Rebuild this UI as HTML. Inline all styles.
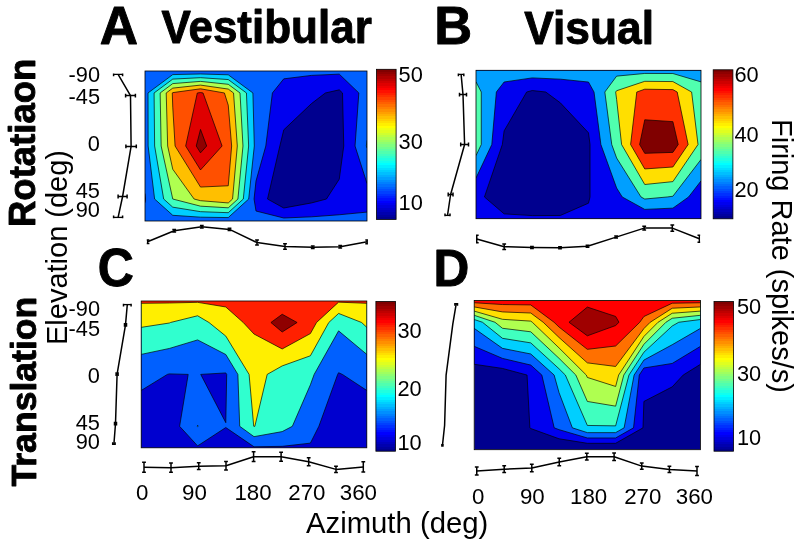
<!DOCTYPE html>
<html><head><meta charset="utf-8"><style>
html,body{margin:0;padding:0;background:#fff;}
body{width:800px;height:547px;overflow:hidden;}
svg{display:block;font-family:"Liberation Sans",sans-serif;}
svg{will-change:transform;}
</style></head><body>
<svg width="800" height="547" viewBox="0 0 800 547">
<rect width="800" height="547" fill="#fff"/>
<clipPath id="clipA"><rect x="145" y="71" width="222" height="150"/></clipPath>
<g clip-path="url(#clipA)">
<rect x="145" y="71" width="222" height="150" fill="#00008f"/>
<path fill="#0000ef" fill-rule="evenodd" d="M145 71L172.75 71L200.5 71L228.25 71L256 71L283.75 71L311.5 71L339.25 71L367 71L367 92.97L367 146L367 199.03L367 221L339.25 221L311.5 221L283.75 221L256 221L228.25 221L200.5 221L172.75 221L145 221L145 199.03L145 146L145 92.97L145 71ZM339.25 89.83L325.38 92.97L311.5 103.57L283.75 129.86L279.83 146L267.53 199.03L283.75 208.02L311.5 202.93L326.44 199.03L339.25 179.15L343.76 146L342.51 92.97L339.25 89.83Z"/>
<path fill="#0060ff" fill-rule="evenodd" d="M145 71L172.75 71L200.5 71L228.25 71L256 71L283.75 71L311.5 71L339.25 71L367 71L367 92.97L367 146L367 183.48L355.04 146L358.84 92.97L339.25 74.14L311.5 75.39L283.75 78.85L272.4 92.97L265.81 146L256 181.02L254.06 199.03L256 211.02L283.75 218L311.5 216.83L339.25 214.78L367 212.09L367 221L339.25 221L311.5 221L283.75 221L256 221L228.25 221L200.5 221L172.75 221L145 221L145 202.69L145.54 199.03L145 193.55L145 146L145 92.97L145 71Z"/>
<path fill="#00cfff" fill-rule="evenodd" d="M148.03 92.97L172.75 74.6L200.5 73.97L228.25 74.8L252.9 92.97L254.3 146L248.69 199.03L228.25 217.58L200.5 217.16L172.75 215.3L154.61 199.03L148.13 146L148.03 92.97ZM366.32 146L367 140.32L367 146L367 148.12L366.32 146Z"/>
<path fill="#40ffbf" fill-rule="evenodd" d="M154.09 92.97L172.75 79.1L200.5 77.68L228.25 79.56L246.45 92.97L248.64 146L243.31 199.03L228.25 212.7L200.5 211.66L172.75 207.17L163.68 199.03L154.64 146L154.09 92.97Z"/>
<path fill="#afff50" fill-rule="evenodd" d="M160.15 92.97L172.75 83.6L200.5 81.39L228.25 84.31L240 92.97L242.97 146L237.93 199.03L228.25 207.82L200.5 206.17L172.75 199.03L172.75 199.03L161.15 146L160.15 92.97Z"/>
<path fill="#ffbf00" fill-rule="evenodd" d="M166.21 92.97L172.75 88.11L200.5 85.1L228.25 89.07L233.54 92.97L237.31 146L232.55 199.03L228.25 202.94L200.5 200.68L194.1 199.03L172.75 169.24L167.67 146L166.21 92.97Z"/>
<path fill="#ff5000" fill-rule="evenodd" d="M172.27 92.97L172.75 92.61L200.5 88.81L224.41 92.97L228.25 105.21L231.65 146L228.25 185.77L200.5 187.06L175.08 146L172.75 107.11L172.27 92.97Z"/>
<path fill="#df0000" fill-rule="evenodd" d="M197.3 92.97L200.5 92.52L203.06 92.97L222.08 146L200.5 169.95L185.67 146L197.3 92.97Z"/>
<path fill="#8f0000" fill-rule="evenodd" d="M196.26 146L200.5 129.43L206.67 146L200.5 152.84L196.26 146Z"/>
<path fill="none" stroke="#000" stroke-opacity="0.85" stroke-width="0.8" stroke-linejoin="round" d="M339.25 89.83L325.38 92.97L311.5 103.57L283.75 129.86L279.83 146L267.53 199.03L283.75 208.02L311.5 202.93L326.44 199.03L339.25 179.15L343.76 146L342.51 92.97L339.25 89.83"/>
<path fill="none" stroke="#000" stroke-opacity="0.85" stroke-width="0.8" stroke-linejoin="round" d="M367 183.48L355.04 146L358.84 92.97L339.25 74.14L311.5 75.39L283.75 78.85L272.4 92.97L265.81 146L256 181.02L254.06 199.03L256 211.02L283.75 218L311.5 216.83L339.25 214.78L367 212.09M145 202.69L145.54 199.03L145 193.55"/>
<path fill="none" stroke="#000" stroke-opacity="0.85" stroke-width="0.8" stroke-linejoin="round" d="M148.03 92.97L172.75 74.6L200.5 73.97L228.25 74.8L252.9 92.97L254.3 146L248.69 199.03L228.25 217.58L200.5 217.16L172.75 215.3L154.61 199.03L148.13 146L148.03 92.97M367 148.12L366.32 146L367 140.32"/>
<path fill="none" stroke="#000" stroke-opacity="0.85" stroke-width="0.8" stroke-linejoin="round" d="M154.09 92.97L172.75 79.1L200.5 77.68L228.25 79.56L246.45 92.97L248.64 146L243.31 199.03L228.25 212.7L200.5 211.66L172.75 207.17L163.68 199.03L154.64 146L154.09 92.97"/>
<path fill="none" stroke="#000" stroke-opacity="0.85" stroke-width="0.8" stroke-linejoin="round" d="M160.15 92.97L172.75 83.6L200.5 81.39L228.25 84.31L240 92.97L242.97 146L237.93 199.03L228.25 207.82L200.5 206.17L172.75 199.03L172.75 199.03L161.15 146L160.15 92.97"/>
<path fill="none" stroke="#000" stroke-opacity="0.85" stroke-width="0.8" stroke-linejoin="round" d="M166.21 92.97L172.75 88.11L200.5 85.1L228.25 89.07L233.54 92.97L237.31 146L232.55 199.03L228.25 202.94L200.5 200.68L194.1 199.03L172.75 169.24L167.67 146L166.21 92.97"/>
<path fill="none" stroke="#000" stroke-opacity="0.85" stroke-width="0.8" stroke-linejoin="round" d="M172.27 92.97L172.75 92.61L200.5 88.81L224.41 92.97L228.25 105.21L231.65 146L228.25 185.77L200.5 187.06L175.08 146L172.75 107.11L172.27 92.97"/>
<path fill="none" stroke="#000" stroke-opacity="0.85" stroke-width="0.8" stroke-linejoin="round" d="M197.3 92.97L200.5 92.52L203.06 92.97L222.08 146L200.5 169.95L185.67 146L197.3 92.97"/>
<path fill="none" stroke="#000" stroke-opacity="0.85" stroke-width="0.8" stroke-linejoin="round" d="M196.26 146L200.5 129.43L206.67 146L200.5 152.84L196.26 146"/>
</g>
<rect x="145" y="71" width="222" height="150" fill="none" stroke="#000" stroke-width="0.8"/>
<clipPath id="clipB"><rect x="476" y="70.3" width="225" height="148.4"/></clipPath>
<g clip-path="url(#clipB)">
<rect x="476" y="70.3" width="225" height="148.4" fill="#00008f"/>
<path fill="#0000ef" fill-rule="evenodd" d="M476 70.3L504.12 70.3L532.25 70.3L560.38 70.3L588.5 70.3L616.62 70.3L644.75 70.3L672.88 70.3L701 70.3L701 92.03L701 144.5L701 196.97L701 218.7L672.88 218.7L644.75 218.7L616.62 218.7L588.5 218.7L560.38 218.7L532.25 218.7L504.12 218.7L476 218.7L476 196.97L476 144.5L476 92.03L476 70.3ZM532.25 90.52L526.67 92.03L504.12 130.88L502.33 144.5L484.44 196.97L504.12 213.87L532.25 215.6L560.38 215.46L588.5 203.18L590.02 196.97L590.02 144.5L588.5 132.84L560.38 102.86L545.75 92.03L532.25 90.52Z"/>
<path fill="#009fff" fill-rule="evenodd" d="M476 70.3L504.12 70.3L532.25 70.3L560.38 70.3L588.5 70.3L616.62 70.3L644.75 70.3L672.88 70.3L701 70.3L701 92.03L701 144.5L701 180.91L688.59 196.97L672.88 208.13L644.75 209.39L622.25 196.97L616.62 187.97L600.88 144.5L594.02 92.03L588.5 82.05L560.38 79.17L532.25 77.88L504.12 81.99L496.36 92.03L491.8 144.5L476 177.99L476 144.5L476 92.03L476 70.3Z"/>
<path fill="#50ffaf" fill-rule="evenodd" d="M476 92.03L476 81.89L481.28 92.03L481.27 144.5L476 155.66L476 144.5L476 92.03ZM604.83 92.03L616.62 76.13L644.75 73.45L672.88 73.52L701 81.89L701 92.03L701 144.5L701 159.49L672.87 196.24L667.25 196.97L644.75 199.04L641 196.97L616.62 157.99L611.74 144.5L604.83 92.03Z"/>
<path fill="#ffdf00" fill-rule="evenodd" d="M615.65 92.03L616.62 90.72L644.75 81.32L672.88 81.57L691.62 92.03L698.03 144.5L672.88 181.62L644.75 184.51L621.58 144.5L616.62 99.41L615.65 92.03Z"/>
<path fill="#ff3000" fill-rule="evenodd" d="M636.78 92.03L644.75 89.2L672.88 89.62L677.2 92.03L688.13 144.5L672.88 167.01L644.75 168.94L630.6 144.5L636.78 92.03Z"/>
<path fill="#800000" fill-rule="evenodd" d="M639.61 144.5L644.75 119.78L672.88 121.65L678.22 144.5L672.88 152.39L644.75 153.37L639.61 144.5Z"/>
<path fill="none" stroke="#000" stroke-opacity="0.85" stroke-width="0.8" stroke-linejoin="round" d="M532.25 90.52L526.67 92.03L504.12 130.88L502.33 144.5L484.44 196.97L504.12 213.87L532.25 215.6L560.38 215.46L588.5 203.18L590.02 196.97L590.02 144.5L588.5 132.84L560.38 102.86L545.75 92.03L532.25 90.52"/>
<path fill="none" stroke="#000" stroke-opacity="0.85" stroke-width="0.8" stroke-linejoin="round" d="M701 180.91L688.59 196.97L672.88 208.13L644.75 209.39L622.25 196.97L616.62 187.97L600.88 144.5L594.02 92.03L588.5 82.05L560.38 79.17L532.25 77.88L504.12 81.99L496.36 92.03L491.8 144.5L476 177.99"/>
<path fill="none" stroke="#000" stroke-opacity="0.85" stroke-width="0.8" stroke-linejoin="round" d="M476 81.89L481.28 92.03L481.27 144.5L476 155.66M701 159.49L672.87 196.24L667.25 196.97L644.75 199.04L641 196.97L616.62 157.99L611.74 144.5L604.83 92.03L616.62 76.13L644.75 73.45L672.88 73.52L701 81.89"/>
<path fill="none" stroke="#000" stroke-opacity="0.85" stroke-width="0.8" stroke-linejoin="round" d="M615.65 92.03L616.62 90.72L644.75 81.32L672.88 81.57L691.62 92.03L698.03 144.5L672.88 181.62L644.75 184.51L621.58 144.5L616.62 99.41L615.65 92.03"/>
<path fill="none" stroke="#000" stroke-opacity="0.85" stroke-width="0.8" stroke-linejoin="round" d="M636.78 92.03L644.75 89.2L672.88 89.62L677.2 92.03L688.13 144.5L672.88 167.01L644.75 168.94L630.6 144.5L636.78 92.03"/>
<path fill="none" stroke="#000" stroke-opacity="0.85" stroke-width="0.8" stroke-linejoin="round" d="M639.61 144.5L644.75 119.78L672.88 121.65L678.22 144.5L672.88 152.39L644.75 153.37L639.61 144.5"/>
</g>
<rect x="476" y="70.3" width="225" height="148.4" fill="none" stroke="#000" stroke-width="0.8"/>
<clipPath id="clipC"><rect x="141.2" y="301" width="225.6" height="146.8"/></clipPath>
<g clip-path="url(#clipC)">
<rect x="141.2" y="301" width="225.6" height="146.8" fill="#00008f"/>
<path fill="#0000cf" fill-rule="evenodd" d="M141.2 301L169.4 301L197.6 301L225.8 301L254 301L282.2 301L310.4 301L338.6 301L366.8 301L366.8 322.5L366.8 374.4L366.8 426.3L366.8 447.8L338.6 447.8L310.4 447.8L282.2 447.8L254 447.8L225.8 447.8L197.6 447.8L169.4 447.8L141.2 447.8L141.2 426.3L141.2 374.4L141.2 322.5L141.2 301Z"/>
<path fill="#0060ff" fill-rule="evenodd" d="M141.2 301L169.4 301L197.6 301L225.8 301L254 301L282.2 301L310.4 301L338.6 301L366.8 301L366.8 322.5L366.8 374.4L366.8 390.46L342.36 374.4L338.6 372.73L337.66 374.4L318.86 426.3L310.4 443.13L282.2 446.33L254 446.79L225.8 427.52L197.6 445.88L179.62 426.3L188.2 374.4L169.4 373.89L167.39 374.4L141.2 390.46L141.2 374.4L141.2 322.5L141.2 301ZM225.8 372.93L200.73 374.4L225.8 422.68L226.7 374.4L225.8 372.93Z"/>
<path fill="#30ffcf" fill-rule="evenodd" d="M141.2 301L169.4 301L197.6 301L225.8 301L254 301L282.2 301L310.4 301L338.6 301L366.8 301L366.8 322.5L366.8 354.4L338.6 330.87L314.16 374.4L310.4 384.78L292.35 426.3L282.2 431.6L254 436.65L239.72 426.3L237.89 374.4L225.8 354.52L197.6 339.92L169.4 348.45L141.2 354.4L141.2 322.5L141.2 301ZM197.25 426.3L197.6 425.27L198.16 426.3L197.6 426.69L197.25 426.3Z"/>
<path fill="#ffef00" fill-rule="evenodd" d="M141.2 301L169.4 301L197.6 301L225.8 301L254 301L282.2 301L310.4 301L338.6 301L366.8 301L366.8 322.5L366.8 327.36L361.62 322.5L338.6 313.45L328.79 322.5L310.4 355.77L282.2 365.92L267.2 374.4L254.85 426.3L254 426.5L253.72 426.3L249.08 374.4L225.8 336.12L208.97 322.5L197.6 315.78L170.48 322.5L169.4 323.01L141.2 327.36L141.2 322.5L141.2 301Z"/>
<path fill="#ff2000" fill-rule="evenodd" d="M141.2 301L169.4 301L197.6 301L225.8 301L254 301L282.2 301L310.4 301L338.6 301L366.8 301L366.8 303.34L338.6 302.13L316.53 322.5L310.4 333.59L282.2 348.96L254 334.03L243.26 322.5L225.8 306.97L197.6 302.34L169.4 302.99L141.2 303.34L141.2 301Z"/>
<path fill="#8f0000" fill-rule="evenodd" d="M270.92 322.5L282.2 314.25L297.1 322.5L282.2 332L270.92 322.5Z"/>
<path fill="none" stroke="#000" stroke-opacity="0.85" stroke-width="0.8" stroke-linejoin="round" d="M225.8 372.93L200.73 374.4L225.8 422.68L226.7 374.4L225.8 372.93M366.8 390.46L342.36 374.4L338.6 372.73L337.66 374.4L318.86 426.3L310.4 443.13L282.2 446.33L254 446.79L225.8 427.52L197.6 445.88L179.62 426.3L188.2 374.4L169.4 373.89L167.39 374.4L141.2 390.46"/>
<path fill="none" stroke="#000" stroke-opacity="0.85" stroke-width="0.8" stroke-linejoin="round" d="M366.8 354.4L338.6 330.87L314.16 374.4L310.4 384.78L292.35 426.3L282.2 431.6L254 436.65L239.72 426.3L237.89 374.4L225.8 354.52L197.6 339.92L169.4 348.45L141.2 354.4M197.25 426.3L197.6 425.27L198.16 426.3L197.6 426.69L197.25 426.3"/>
<path fill="none" stroke="#000" stroke-opacity="0.85" stroke-width="0.8" stroke-linejoin="round" d="M366.8 327.36L361.62 322.5L338.6 313.45L328.79 322.5L310.4 355.77L282.2 365.92L267.2 374.4L254.85 426.3L254 426.5L253.72 426.3L249.08 374.4L225.8 336.12L208.97 322.5L197.6 315.78L170.48 322.5L169.4 323.01L141.2 327.36"/>
<path fill="none" stroke="#000" stroke-opacity="0.85" stroke-width="0.8" stroke-linejoin="round" d="M366.8 303.34L338.6 302.13L316.53 322.5L310.4 333.59L282.2 348.96L254 334.03L243.26 322.5L225.8 306.97L197.6 302.34L169.4 302.99L141.2 303.34"/>
<path fill="none" stroke="#000" stroke-opacity="0.85" stroke-width="0.8" stroke-linejoin="round" d="M270.92 322.5L282.2 314.25L297.1 322.5L282.2 332L270.92 322.5"/>
</g>
<rect x="141.2" y="301" width="225.6" height="146.8" fill="none" stroke="#000" stroke-width="0.8"/>
<clipPath id="clipD"><rect x="474.2" y="300.4" width="226.3" height="149.3"/></clipPath>
<g clip-path="url(#clipD)">
<rect x="474.2" y="300.4" width="226.3" height="149.3" fill="#00008f"/>
<path fill="#0000ef" fill-rule="evenodd" d="M474.2 300.4L502.49 300.4L530.77 300.4L559.06 300.4L587.35 300.4L615.64 300.4L643.92 300.4L672.21 300.4L700.5 300.4L700.5 322.26L700.5 364.28L683.18 375.05L672.21 386.85L643.92 401.44L642.98 427.84L615.64 443.3L587.35 443.3L559.06 438.77L530.77 428.54L529.86 427.84L527.05 375.05L502.49 368.43L474.2 364.28L474.2 322.26L474.2 300.4Z"/>
<path fill="#0060ff" fill-rule="evenodd" d="M474.2 300.4L502.49 300.4L530.77 300.4L559.06 300.4L587.35 300.4L615.64 300.4L643.92 300.4L672.21 300.4L700.5 300.4L700.5 322.26L700.5 346.32L672.21 363.44L643.92 367.96L639.28 375.05L633.55 427.84L615.64 437.97L587.35 437.97L559.06 429.66L554.19 427.84L541.84 375.05L530.77 365.07L502.49 358.39L474.2 346.32L474.2 322.26L474.2 300.4Z"/>
<path fill="#00cfff" fill-rule="evenodd" d="M474.2 300.4L502.49 300.4L530.77 300.4L559.06 300.4L587.35 300.4L615.64 300.4L643.92 300.4L672.21 300.4L700.5 300.4L700.5 322.26L700.5 328.37L672.21 344.73L643.92 360.08L634.12 375.05L624.12 427.84L615.64 432.64L587.35 432.64L572.37 427.84L559.06 392.65L554.14 375.05L530.77 353.98L502.49 348.36L474.2 328.37L474.2 322.26L474.2 300.4Z"/>
<path fill="#40ffbf" fill-rule="evenodd" d="M474.2 300.4L502.49 300.4L530.77 300.4L559.06 300.4L587.35 300.4L615.64 300.4L643.92 300.4L672.21 300.4L700.5 300.4L700.5 319.5L678.79 322.26L672.21 326.01L643.92 352.2L628.96 375.05L615.64 425.87L587.35 425.44L565.35 375.05L559.06 368.79L530.77 342.89L502.49 338.32L482.46 322.26L474.2 319.5L474.2 300.4Z"/>
<path fill="#afff50" fill-rule="evenodd" d="M474.2 300.4L502.49 300.4L530.77 300.4L559.06 300.4L587.35 300.4L615.64 300.4L643.92 300.4L672.21 300.4L700.5 300.4L700.5 315.31L672.21 318.25L665.93 322.26L643.92 344.32L623.79 375.05L615.64 406.17L587.35 401.44L575.83 375.05L559.06 358.36L530.77 331.8L502.49 328.29L494.98 322.26L474.2 315.31L474.2 300.4Z"/>
<path fill="#ffdf00" fill-rule="evenodd" d="M474.2 300.4L502.49 300.4L530.77 300.4L559.06 300.4L587.35 300.4L615.64 300.4L643.92 300.4L672.21 300.4L700.5 300.4L700.5 311.12L672.21 313.24L658.07 322.26L643.92 336.45L618.63 375.05L615.64 386.47L587.35 377.45L586.3 375.05L559.06 347.93L532.3 322.26L530.77 321.13L502.49 319.31L474.2 311.12L474.2 300.4Z"/>
<path fill="#ff7000" fill-rule="evenodd" d="M474.2 300.4L502.49 300.4L530.77 300.4L559.06 300.4L587.35 300.4L615.64 300.4L643.92 300.4L672.21 300.4L700.5 300.4L700.5 306.93L672.21 308.22L650.21 322.26L643.92 328.57L615.64 366.46L587.35 362.87L559.06 337.5L543.18 322.26L530.77 313.03L502.49 311.92L474.2 306.93L474.2 300.4Z"/>
<path fill="#ff0000" fill-rule="evenodd" d="M474.2 300.4L502.49 300.4L530.77 300.4L559.06 300.4L587.35 300.4L615.64 300.4L643.92 300.4L672.21 300.4L700.5 300.4L700.5 302.75L672.21 303.21L643.92 316.51L639.77 322.26L615.64 346L587.35 349.33L559.06 327.06L554.06 322.26L530.77 304.93L502.49 304.54L474.2 302.75L474.2 300.4Z"/>
<path fill="#9f0000" fill-rule="evenodd" d="M568.98 322.26L587.35 307.08L615.64 316.43L618.97 322.26L615.64 325.54L587.35 335.8L568.98 322.26Z"/>
<path fill="none" stroke="#000" stroke-opacity="0.85" stroke-width="0.8" stroke-linejoin="round" d="M700.5 364.28L683.18 375.05L672.21 386.85L643.92 401.44L642.98 427.84L615.64 443.3L587.35 443.3L559.06 438.77L530.77 428.54L529.86 427.84L527.05 375.05L502.49 368.43L474.2 364.28"/>
<path fill="none" stroke="#000" stroke-opacity="0.85" stroke-width="0.8" stroke-linejoin="round" d="M700.5 346.32L672.21 363.44L643.92 367.96L639.28 375.05L633.55 427.84L615.64 437.97L587.35 437.97L559.06 429.66L554.19 427.84L541.84 375.05L530.77 365.07L502.49 358.39L474.2 346.32"/>
<path fill="none" stroke="#000" stroke-opacity="0.85" stroke-width="0.8" stroke-linejoin="round" d="M700.5 328.37L672.21 344.73L643.92 360.08L634.12 375.05L624.12 427.84L615.64 432.64L587.35 432.64L572.37 427.84L559.06 392.65L554.14 375.05L530.77 353.98L502.49 348.36L474.2 328.37"/>
<path fill="none" stroke="#000" stroke-opacity="0.85" stroke-width="0.8" stroke-linejoin="round" d="M700.5 319.5L678.79 322.26L672.21 326.01L643.92 352.2L628.96 375.05L615.64 425.87L587.35 425.44L565.35 375.05L559.06 368.79L530.77 342.89L502.49 338.32L482.46 322.26L474.2 319.5"/>
<path fill="none" stroke="#000" stroke-opacity="0.85" stroke-width="0.8" stroke-linejoin="round" d="M700.5 315.31L672.21 318.25L665.93 322.26L643.92 344.32L623.79 375.05L615.64 406.17L587.35 401.44L575.83 375.05L559.06 358.36L530.77 331.8L502.49 328.29L494.98 322.26L474.2 315.31"/>
<path fill="none" stroke="#000" stroke-opacity="0.85" stroke-width="0.8" stroke-linejoin="round" d="M700.5 311.12L672.21 313.24L658.07 322.26L643.92 336.45L618.63 375.05L615.64 386.47L587.35 377.45L586.3 375.05L559.06 347.93L532.3 322.26L530.77 321.13L502.49 319.31L474.2 311.12"/>
<path fill="none" stroke="#000" stroke-opacity="0.85" stroke-width="0.8" stroke-linejoin="round" d="M700.5 306.93L672.21 308.22L650.21 322.26L643.92 328.57L615.64 366.46L587.35 362.87L559.06 337.5L543.18 322.26L530.77 313.03L502.49 311.92L474.2 306.93"/>
<path fill="none" stroke="#000" stroke-opacity="0.85" stroke-width="0.8" stroke-linejoin="round" d="M700.5 302.75L672.21 303.21L643.92 316.51L639.77 322.26L615.64 346L587.35 349.33L559.06 327.06L554.06 322.26L530.77 304.93L502.49 304.54L474.2 302.75"/>
<path fill="none" stroke="#000" stroke-opacity="0.85" stroke-width="0.8" stroke-linejoin="round" d="M568.98 322.26L587.35 307.08L615.64 316.43L618.97 322.26L615.64 325.54L587.35 335.8L568.98 322.26"/>
</g>
<rect x="474.2" y="300.4" width="226.3" height="149.3" fill="none" stroke="#000" stroke-width="0.8"/>
<linearGradient id="cbA" x1="0" y1="1" x2="0" y2="0"><stop offset="0%" stop-color="#00008f"/><stop offset="1.56%" stop-color="#00008f"/><stop offset="1.56%" stop-color="#00009f"/><stop offset="3.12%" stop-color="#00009f"/><stop offset="3.12%" stop-color="#0000af"/><stop offset="4.69%" stop-color="#0000af"/><stop offset="4.69%" stop-color="#0000bf"/><stop offset="6.25%" stop-color="#0000bf"/><stop offset="6.25%" stop-color="#0000cf"/><stop offset="7.81%" stop-color="#0000cf"/><stop offset="7.81%" stop-color="#0000df"/><stop offset="9.38%" stop-color="#0000df"/><stop offset="9.38%" stop-color="#0000ef"/><stop offset="10.94%" stop-color="#0000ef"/><stop offset="10.94%" stop-color="#0000ff"/><stop offset="12.5%" stop-color="#0000ff"/><stop offset="12.5%" stop-color="#0010ff"/><stop offset="14.06%" stop-color="#0010ff"/><stop offset="14.06%" stop-color="#0020ff"/><stop offset="15.62%" stop-color="#0020ff"/><stop offset="15.62%" stop-color="#0030ff"/><stop offset="17.19%" stop-color="#0030ff"/><stop offset="17.19%" stop-color="#0040ff"/><stop offset="18.75%" stop-color="#0040ff"/><stop offset="18.75%" stop-color="#0050ff"/><stop offset="20.31%" stop-color="#0050ff"/><stop offset="20.31%" stop-color="#0060ff"/><stop offset="21.88%" stop-color="#0060ff"/><stop offset="21.88%" stop-color="#0070ff"/><stop offset="23.44%" stop-color="#0070ff"/><stop offset="23.44%" stop-color="#0080ff"/><stop offset="25%" stop-color="#0080ff"/><stop offset="25%" stop-color="#008fff"/><stop offset="26.56%" stop-color="#008fff"/><stop offset="26.56%" stop-color="#009fff"/><stop offset="28.12%" stop-color="#009fff"/><stop offset="28.12%" stop-color="#00afff"/><stop offset="29.69%" stop-color="#00afff"/><stop offset="29.69%" stop-color="#00bfff"/><stop offset="31.25%" stop-color="#00bfff"/><stop offset="31.25%" stop-color="#00cfff"/><stop offset="32.81%" stop-color="#00cfff"/><stop offset="32.81%" stop-color="#00dfff"/><stop offset="34.38%" stop-color="#00dfff"/><stop offset="34.38%" stop-color="#00efff"/><stop offset="35.94%" stop-color="#00efff"/><stop offset="35.94%" stop-color="#00ffff"/><stop offset="37.5%" stop-color="#00ffff"/><stop offset="37.5%" stop-color="#10ffef"/><stop offset="39.06%" stop-color="#10ffef"/><stop offset="39.06%" stop-color="#20ffdf"/><stop offset="40.62%" stop-color="#20ffdf"/><stop offset="40.62%" stop-color="#30ffcf"/><stop offset="42.19%" stop-color="#30ffcf"/><stop offset="42.19%" stop-color="#40ffbf"/><stop offset="43.75%" stop-color="#40ffbf"/><stop offset="43.75%" stop-color="#50ffaf"/><stop offset="45.31%" stop-color="#50ffaf"/><stop offset="45.31%" stop-color="#60ff9f"/><stop offset="46.88%" stop-color="#60ff9f"/><stop offset="46.88%" stop-color="#70ff8f"/><stop offset="48.44%" stop-color="#70ff8f"/><stop offset="48.44%" stop-color="#80ff80"/><stop offset="50%" stop-color="#80ff80"/><stop offset="50%" stop-color="#8fff70"/><stop offset="51.56%" stop-color="#8fff70"/><stop offset="51.56%" stop-color="#9fff60"/><stop offset="53.12%" stop-color="#9fff60"/><stop offset="53.12%" stop-color="#afff50"/><stop offset="54.69%" stop-color="#afff50"/><stop offset="54.69%" stop-color="#bfff40"/><stop offset="56.25%" stop-color="#bfff40"/><stop offset="56.25%" stop-color="#cfff30"/><stop offset="57.81%" stop-color="#cfff30"/><stop offset="57.81%" stop-color="#dfff20"/><stop offset="59.38%" stop-color="#dfff20"/><stop offset="59.38%" stop-color="#efff10"/><stop offset="60.94%" stop-color="#efff10"/><stop offset="60.94%" stop-color="#ffff00"/><stop offset="62.5%" stop-color="#ffff00"/><stop offset="62.5%" stop-color="#ffef00"/><stop offset="64.06%" stop-color="#ffef00"/><stop offset="64.06%" stop-color="#ffdf00"/><stop offset="65.62%" stop-color="#ffdf00"/><stop offset="65.62%" stop-color="#ffcf00"/><stop offset="67.19%" stop-color="#ffcf00"/><stop offset="67.19%" stop-color="#ffbf00"/><stop offset="68.75%" stop-color="#ffbf00"/><stop offset="68.75%" stop-color="#ffaf00"/><stop offset="70.31%" stop-color="#ffaf00"/><stop offset="70.31%" stop-color="#ff9f00"/><stop offset="71.88%" stop-color="#ff9f00"/><stop offset="71.88%" stop-color="#ff8f00"/><stop offset="73.44%" stop-color="#ff8f00"/><stop offset="73.44%" stop-color="#ff8000"/><stop offset="75%" stop-color="#ff8000"/><stop offset="75%" stop-color="#ff7000"/><stop offset="76.56%" stop-color="#ff7000"/><stop offset="76.56%" stop-color="#ff6000"/><stop offset="78.12%" stop-color="#ff6000"/><stop offset="78.12%" stop-color="#ff5000"/><stop offset="79.69%" stop-color="#ff5000"/><stop offset="79.69%" stop-color="#ff4000"/><stop offset="81.25%" stop-color="#ff4000"/><stop offset="81.25%" stop-color="#ff3000"/><stop offset="82.81%" stop-color="#ff3000"/><stop offset="82.81%" stop-color="#ff2000"/><stop offset="84.38%" stop-color="#ff2000"/><stop offset="84.38%" stop-color="#ff1000"/><stop offset="85.94%" stop-color="#ff1000"/><stop offset="85.94%" stop-color="#ff0000"/><stop offset="87.5%" stop-color="#ff0000"/><stop offset="87.5%" stop-color="#ef0000"/><stop offset="89.06%" stop-color="#ef0000"/><stop offset="89.06%" stop-color="#df0000"/><stop offset="90.62%" stop-color="#df0000"/><stop offset="90.62%" stop-color="#cf0000"/><stop offset="92.19%" stop-color="#cf0000"/><stop offset="92.19%" stop-color="#bf0000"/><stop offset="93.75%" stop-color="#bf0000"/><stop offset="93.75%" stop-color="#af0000"/><stop offset="95.31%" stop-color="#af0000"/><stop offset="95.31%" stop-color="#9f0000"/><stop offset="96.88%" stop-color="#9f0000"/><stop offset="96.88%" stop-color="#8f0000"/><stop offset="98.44%" stop-color="#8f0000"/><stop offset="98.44%" stop-color="#800000"/><stop offset="100%" stop-color="#800000"/></linearGradient><rect x="376.5" y="69.3" width="19.6" height="150.1" fill="url(#cbA)" stroke="#000" stroke-width="0.8"/>
<linearGradient id="cbB" x1="0" y1="1" x2="0" y2="0"><stop offset="0%" stop-color="#00008f"/><stop offset="1.56%" stop-color="#00008f"/><stop offset="1.56%" stop-color="#00009f"/><stop offset="3.12%" stop-color="#00009f"/><stop offset="3.12%" stop-color="#0000af"/><stop offset="4.69%" stop-color="#0000af"/><stop offset="4.69%" stop-color="#0000bf"/><stop offset="6.25%" stop-color="#0000bf"/><stop offset="6.25%" stop-color="#0000cf"/><stop offset="7.81%" stop-color="#0000cf"/><stop offset="7.81%" stop-color="#0000df"/><stop offset="9.38%" stop-color="#0000df"/><stop offset="9.38%" stop-color="#0000ef"/><stop offset="10.94%" stop-color="#0000ef"/><stop offset="10.94%" stop-color="#0000ff"/><stop offset="12.5%" stop-color="#0000ff"/><stop offset="12.5%" stop-color="#0010ff"/><stop offset="14.06%" stop-color="#0010ff"/><stop offset="14.06%" stop-color="#0020ff"/><stop offset="15.62%" stop-color="#0020ff"/><stop offset="15.62%" stop-color="#0030ff"/><stop offset="17.19%" stop-color="#0030ff"/><stop offset="17.19%" stop-color="#0040ff"/><stop offset="18.75%" stop-color="#0040ff"/><stop offset="18.75%" stop-color="#0050ff"/><stop offset="20.31%" stop-color="#0050ff"/><stop offset="20.31%" stop-color="#0060ff"/><stop offset="21.88%" stop-color="#0060ff"/><stop offset="21.88%" stop-color="#0070ff"/><stop offset="23.44%" stop-color="#0070ff"/><stop offset="23.44%" stop-color="#0080ff"/><stop offset="25%" stop-color="#0080ff"/><stop offset="25%" stop-color="#008fff"/><stop offset="26.56%" stop-color="#008fff"/><stop offset="26.56%" stop-color="#009fff"/><stop offset="28.12%" stop-color="#009fff"/><stop offset="28.12%" stop-color="#00afff"/><stop offset="29.69%" stop-color="#00afff"/><stop offset="29.69%" stop-color="#00bfff"/><stop offset="31.25%" stop-color="#00bfff"/><stop offset="31.25%" stop-color="#00cfff"/><stop offset="32.81%" stop-color="#00cfff"/><stop offset="32.81%" stop-color="#00dfff"/><stop offset="34.38%" stop-color="#00dfff"/><stop offset="34.38%" stop-color="#00efff"/><stop offset="35.94%" stop-color="#00efff"/><stop offset="35.94%" stop-color="#00ffff"/><stop offset="37.5%" stop-color="#00ffff"/><stop offset="37.5%" stop-color="#10ffef"/><stop offset="39.06%" stop-color="#10ffef"/><stop offset="39.06%" stop-color="#20ffdf"/><stop offset="40.62%" stop-color="#20ffdf"/><stop offset="40.62%" stop-color="#30ffcf"/><stop offset="42.19%" stop-color="#30ffcf"/><stop offset="42.19%" stop-color="#40ffbf"/><stop offset="43.75%" stop-color="#40ffbf"/><stop offset="43.75%" stop-color="#50ffaf"/><stop offset="45.31%" stop-color="#50ffaf"/><stop offset="45.31%" stop-color="#60ff9f"/><stop offset="46.88%" stop-color="#60ff9f"/><stop offset="46.88%" stop-color="#70ff8f"/><stop offset="48.44%" stop-color="#70ff8f"/><stop offset="48.44%" stop-color="#80ff80"/><stop offset="50%" stop-color="#80ff80"/><stop offset="50%" stop-color="#8fff70"/><stop offset="51.56%" stop-color="#8fff70"/><stop offset="51.56%" stop-color="#9fff60"/><stop offset="53.12%" stop-color="#9fff60"/><stop offset="53.12%" stop-color="#afff50"/><stop offset="54.69%" stop-color="#afff50"/><stop offset="54.69%" stop-color="#bfff40"/><stop offset="56.25%" stop-color="#bfff40"/><stop offset="56.25%" stop-color="#cfff30"/><stop offset="57.81%" stop-color="#cfff30"/><stop offset="57.81%" stop-color="#dfff20"/><stop offset="59.38%" stop-color="#dfff20"/><stop offset="59.38%" stop-color="#efff10"/><stop offset="60.94%" stop-color="#efff10"/><stop offset="60.94%" stop-color="#ffff00"/><stop offset="62.5%" stop-color="#ffff00"/><stop offset="62.5%" stop-color="#ffef00"/><stop offset="64.06%" stop-color="#ffef00"/><stop offset="64.06%" stop-color="#ffdf00"/><stop offset="65.62%" stop-color="#ffdf00"/><stop offset="65.62%" stop-color="#ffcf00"/><stop offset="67.19%" stop-color="#ffcf00"/><stop offset="67.19%" stop-color="#ffbf00"/><stop offset="68.75%" stop-color="#ffbf00"/><stop offset="68.75%" stop-color="#ffaf00"/><stop offset="70.31%" stop-color="#ffaf00"/><stop offset="70.31%" stop-color="#ff9f00"/><stop offset="71.88%" stop-color="#ff9f00"/><stop offset="71.88%" stop-color="#ff8f00"/><stop offset="73.44%" stop-color="#ff8f00"/><stop offset="73.44%" stop-color="#ff8000"/><stop offset="75%" stop-color="#ff8000"/><stop offset="75%" stop-color="#ff7000"/><stop offset="76.56%" stop-color="#ff7000"/><stop offset="76.56%" stop-color="#ff6000"/><stop offset="78.12%" stop-color="#ff6000"/><stop offset="78.12%" stop-color="#ff5000"/><stop offset="79.69%" stop-color="#ff5000"/><stop offset="79.69%" stop-color="#ff4000"/><stop offset="81.25%" stop-color="#ff4000"/><stop offset="81.25%" stop-color="#ff3000"/><stop offset="82.81%" stop-color="#ff3000"/><stop offset="82.81%" stop-color="#ff2000"/><stop offset="84.38%" stop-color="#ff2000"/><stop offset="84.38%" stop-color="#ff1000"/><stop offset="85.94%" stop-color="#ff1000"/><stop offset="85.94%" stop-color="#ff0000"/><stop offset="87.5%" stop-color="#ff0000"/><stop offset="87.5%" stop-color="#ef0000"/><stop offset="89.06%" stop-color="#ef0000"/><stop offset="89.06%" stop-color="#df0000"/><stop offset="90.62%" stop-color="#df0000"/><stop offset="90.62%" stop-color="#cf0000"/><stop offset="92.19%" stop-color="#cf0000"/><stop offset="92.19%" stop-color="#bf0000"/><stop offset="93.75%" stop-color="#bf0000"/><stop offset="93.75%" stop-color="#af0000"/><stop offset="95.31%" stop-color="#af0000"/><stop offset="95.31%" stop-color="#9f0000"/><stop offset="96.88%" stop-color="#9f0000"/><stop offset="96.88%" stop-color="#8f0000"/><stop offset="98.44%" stop-color="#8f0000"/><stop offset="98.44%" stop-color="#800000"/><stop offset="100%" stop-color="#800000"/></linearGradient><rect x="713.2" y="69.8" width="19.7" height="149" fill="url(#cbB)" stroke="#000" stroke-width="0.8"/>
<linearGradient id="cbC" x1="0" y1="1" x2="0" y2="0"><stop offset="0%" stop-color="#00008f"/><stop offset="1.56%" stop-color="#00008f"/><stop offset="1.56%" stop-color="#00009f"/><stop offset="3.12%" stop-color="#00009f"/><stop offset="3.12%" stop-color="#0000af"/><stop offset="4.69%" stop-color="#0000af"/><stop offset="4.69%" stop-color="#0000bf"/><stop offset="6.25%" stop-color="#0000bf"/><stop offset="6.25%" stop-color="#0000cf"/><stop offset="7.81%" stop-color="#0000cf"/><stop offset="7.81%" stop-color="#0000df"/><stop offset="9.38%" stop-color="#0000df"/><stop offset="9.38%" stop-color="#0000ef"/><stop offset="10.94%" stop-color="#0000ef"/><stop offset="10.94%" stop-color="#0000ff"/><stop offset="12.5%" stop-color="#0000ff"/><stop offset="12.5%" stop-color="#0010ff"/><stop offset="14.06%" stop-color="#0010ff"/><stop offset="14.06%" stop-color="#0020ff"/><stop offset="15.62%" stop-color="#0020ff"/><stop offset="15.62%" stop-color="#0030ff"/><stop offset="17.19%" stop-color="#0030ff"/><stop offset="17.19%" stop-color="#0040ff"/><stop offset="18.75%" stop-color="#0040ff"/><stop offset="18.75%" stop-color="#0050ff"/><stop offset="20.31%" stop-color="#0050ff"/><stop offset="20.31%" stop-color="#0060ff"/><stop offset="21.88%" stop-color="#0060ff"/><stop offset="21.88%" stop-color="#0070ff"/><stop offset="23.44%" stop-color="#0070ff"/><stop offset="23.44%" stop-color="#0080ff"/><stop offset="25%" stop-color="#0080ff"/><stop offset="25%" stop-color="#008fff"/><stop offset="26.56%" stop-color="#008fff"/><stop offset="26.56%" stop-color="#009fff"/><stop offset="28.12%" stop-color="#009fff"/><stop offset="28.12%" stop-color="#00afff"/><stop offset="29.69%" stop-color="#00afff"/><stop offset="29.69%" stop-color="#00bfff"/><stop offset="31.25%" stop-color="#00bfff"/><stop offset="31.25%" stop-color="#00cfff"/><stop offset="32.81%" stop-color="#00cfff"/><stop offset="32.81%" stop-color="#00dfff"/><stop offset="34.38%" stop-color="#00dfff"/><stop offset="34.38%" stop-color="#00efff"/><stop offset="35.94%" stop-color="#00efff"/><stop offset="35.94%" stop-color="#00ffff"/><stop offset="37.5%" stop-color="#00ffff"/><stop offset="37.5%" stop-color="#10ffef"/><stop offset="39.06%" stop-color="#10ffef"/><stop offset="39.06%" stop-color="#20ffdf"/><stop offset="40.62%" stop-color="#20ffdf"/><stop offset="40.62%" stop-color="#30ffcf"/><stop offset="42.19%" stop-color="#30ffcf"/><stop offset="42.19%" stop-color="#40ffbf"/><stop offset="43.75%" stop-color="#40ffbf"/><stop offset="43.75%" stop-color="#50ffaf"/><stop offset="45.31%" stop-color="#50ffaf"/><stop offset="45.31%" stop-color="#60ff9f"/><stop offset="46.88%" stop-color="#60ff9f"/><stop offset="46.88%" stop-color="#70ff8f"/><stop offset="48.44%" stop-color="#70ff8f"/><stop offset="48.44%" stop-color="#80ff80"/><stop offset="50%" stop-color="#80ff80"/><stop offset="50%" stop-color="#8fff70"/><stop offset="51.56%" stop-color="#8fff70"/><stop offset="51.56%" stop-color="#9fff60"/><stop offset="53.12%" stop-color="#9fff60"/><stop offset="53.12%" stop-color="#afff50"/><stop offset="54.69%" stop-color="#afff50"/><stop offset="54.69%" stop-color="#bfff40"/><stop offset="56.25%" stop-color="#bfff40"/><stop offset="56.25%" stop-color="#cfff30"/><stop offset="57.81%" stop-color="#cfff30"/><stop offset="57.81%" stop-color="#dfff20"/><stop offset="59.38%" stop-color="#dfff20"/><stop offset="59.38%" stop-color="#efff10"/><stop offset="60.94%" stop-color="#efff10"/><stop offset="60.94%" stop-color="#ffff00"/><stop offset="62.5%" stop-color="#ffff00"/><stop offset="62.5%" stop-color="#ffef00"/><stop offset="64.06%" stop-color="#ffef00"/><stop offset="64.06%" stop-color="#ffdf00"/><stop offset="65.62%" stop-color="#ffdf00"/><stop offset="65.62%" stop-color="#ffcf00"/><stop offset="67.19%" stop-color="#ffcf00"/><stop offset="67.19%" stop-color="#ffbf00"/><stop offset="68.75%" stop-color="#ffbf00"/><stop offset="68.75%" stop-color="#ffaf00"/><stop offset="70.31%" stop-color="#ffaf00"/><stop offset="70.31%" stop-color="#ff9f00"/><stop offset="71.88%" stop-color="#ff9f00"/><stop offset="71.88%" stop-color="#ff8f00"/><stop offset="73.44%" stop-color="#ff8f00"/><stop offset="73.44%" stop-color="#ff8000"/><stop offset="75%" stop-color="#ff8000"/><stop offset="75%" stop-color="#ff7000"/><stop offset="76.56%" stop-color="#ff7000"/><stop offset="76.56%" stop-color="#ff6000"/><stop offset="78.12%" stop-color="#ff6000"/><stop offset="78.12%" stop-color="#ff5000"/><stop offset="79.69%" stop-color="#ff5000"/><stop offset="79.69%" stop-color="#ff4000"/><stop offset="81.25%" stop-color="#ff4000"/><stop offset="81.25%" stop-color="#ff3000"/><stop offset="82.81%" stop-color="#ff3000"/><stop offset="82.81%" stop-color="#ff2000"/><stop offset="84.38%" stop-color="#ff2000"/><stop offset="84.38%" stop-color="#ff1000"/><stop offset="85.94%" stop-color="#ff1000"/><stop offset="85.94%" stop-color="#ff0000"/><stop offset="87.5%" stop-color="#ff0000"/><stop offset="87.5%" stop-color="#ef0000"/><stop offset="89.06%" stop-color="#ef0000"/><stop offset="89.06%" stop-color="#df0000"/><stop offset="90.62%" stop-color="#df0000"/><stop offset="90.62%" stop-color="#cf0000"/><stop offset="92.19%" stop-color="#cf0000"/><stop offset="92.19%" stop-color="#bf0000"/><stop offset="93.75%" stop-color="#bf0000"/><stop offset="93.75%" stop-color="#af0000"/><stop offset="95.31%" stop-color="#af0000"/><stop offset="95.31%" stop-color="#9f0000"/><stop offset="96.88%" stop-color="#9f0000"/><stop offset="96.88%" stop-color="#8f0000"/><stop offset="98.44%" stop-color="#8f0000"/><stop offset="98.44%" stop-color="#800000"/><stop offset="100%" stop-color="#800000"/></linearGradient><rect x="375.9" y="301.5" width="19.6" height="149.7" fill="url(#cbC)" stroke="#000" stroke-width="0.8"/>
<linearGradient id="cbD" x1="0" y1="1" x2="0" y2="0"><stop offset="0%" stop-color="#00008f"/><stop offset="1.56%" stop-color="#00008f"/><stop offset="1.56%" stop-color="#00009f"/><stop offset="3.12%" stop-color="#00009f"/><stop offset="3.12%" stop-color="#0000af"/><stop offset="4.69%" stop-color="#0000af"/><stop offset="4.69%" stop-color="#0000bf"/><stop offset="6.25%" stop-color="#0000bf"/><stop offset="6.25%" stop-color="#0000cf"/><stop offset="7.81%" stop-color="#0000cf"/><stop offset="7.81%" stop-color="#0000df"/><stop offset="9.38%" stop-color="#0000df"/><stop offset="9.38%" stop-color="#0000ef"/><stop offset="10.94%" stop-color="#0000ef"/><stop offset="10.94%" stop-color="#0000ff"/><stop offset="12.5%" stop-color="#0000ff"/><stop offset="12.5%" stop-color="#0010ff"/><stop offset="14.06%" stop-color="#0010ff"/><stop offset="14.06%" stop-color="#0020ff"/><stop offset="15.62%" stop-color="#0020ff"/><stop offset="15.62%" stop-color="#0030ff"/><stop offset="17.19%" stop-color="#0030ff"/><stop offset="17.19%" stop-color="#0040ff"/><stop offset="18.75%" stop-color="#0040ff"/><stop offset="18.75%" stop-color="#0050ff"/><stop offset="20.31%" stop-color="#0050ff"/><stop offset="20.31%" stop-color="#0060ff"/><stop offset="21.88%" stop-color="#0060ff"/><stop offset="21.88%" stop-color="#0070ff"/><stop offset="23.44%" stop-color="#0070ff"/><stop offset="23.44%" stop-color="#0080ff"/><stop offset="25%" stop-color="#0080ff"/><stop offset="25%" stop-color="#008fff"/><stop offset="26.56%" stop-color="#008fff"/><stop offset="26.56%" stop-color="#009fff"/><stop offset="28.12%" stop-color="#009fff"/><stop offset="28.12%" stop-color="#00afff"/><stop offset="29.69%" stop-color="#00afff"/><stop offset="29.69%" stop-color="#00bfff"/><stop offset="31.25%" stop-color="#00bfff"/><stop offset="31.25%" stop-color="#00cfff"/><stop offset="32.81%" stop-color="#00cfff"/><stop offset="32.81%" stop-color="#00dfff"/><stop offset="34.38%" stop-color="#00dfff"/><stop offset="34.38%" stop-color="#00efff"/><stop offset="35.94%" stop-color="#00efff"/><stop offset="35.94%" stop-color="#00ffff"/><stop offset="37.5%" stop-color="#00ffff"/><stop offset="37.5%" stop-color="#10ffef"/><stop offset="39.06%" stop-color="#10ffef"/><stop offset="39.06%" stop-color="#20ffdf"/><stop offset="40.62%" stop-color="#20ffdf"/><stop offset="40.62%" stop-color="#30ffcf"/><stop offset="42.19%" stop-color="#30ffcf"/><stop offset="42.19%" stop-color="#40ffbf"/><stop offset="43.75%" stop-color="#40ffbf"/><stop offset="43.75%" stop-color="#50ffaf"/><stop offset="45.31%" stop-color="#50ffaf"/><stop offset="45.31%" stop-color="#60ff9f"/><stop offset="46.88%" stop-color="#60ff9f"/><stop offset="46.88%" stop-color="#70ff8f"/><stop offset="48.44%" stop-color="#70ff8f"/><stop offset="48.44%" stop-color="#80ff80"/><stop offset="50%" stop-color="#80ff80"/><stop offset="50%" stop-color="#8fff70"/><stop offset="51.56%" stop-color="#8fff70"/><stop offset="51.56%" stop-color="#9fff60"/><stop offset="53.12%" stop-color="#9fff60"/><stop offset="53.12%" stop-color="#afff50"/><stop offset="54.69%" stop-color="#afff50"/><stop offset="54.69%" stop-color="#bfff40"/><stop offset="56.25%" stop-color="#bfff40"/><stop offset="56.25%" stop-color="#cfff30"/><stop offset="57.81%" stop-color="#cfff30"/><stop offset="57.81%" stop-color="#dfff20"/><stop offset="59.38%" stop-color="#dfff20"/><stop offset="59.38%" stop-color="#efff10"/><stop offset="60.94%" stop-color="#efff10"/><stop offset="60.94%" stop-color="#ffff00"/><stop offset="62.5%" stop-color="#ffff00"/><stop offset="62.5%" stop-color="#ffef00"/><stop offset="64.06%" stop-color="#ffef00"/><stop offset="64.06%" stop-color="#ffdf00"/><stop offset="65.62%" stop-color="#ffdf00"/><stop offset="65.62%" stop-color="#ffcf00"/><stop offset="67.19%" stop-color="#ffcf00"/><stop offset="67.19%" stop-color="#ffbf00"/><stop offset="68.75%" stop-color="#ffbf00"/><stop offset="68.75%" stop-color="#ffaf00"/><stop offset="70.31%" stop-color="#ffaf00"/><stop offset="70.31%" stop-color="#ff9f00"/><stop offset="71.88%" stop-color="#ff9f00"/><stop offset="71.88%" stop-color="#ff8f00"/><stop offset="73.44%" stop-color="#ff8f00"/><stop offset="73.44%" stop-color="#ff8000"/><stop offset="75%" stop-color="#ff8000"/><stop offset="75%" stop-color="#ff7000"/><stop offset="76.56%" stop-color="#ff7000"/><stop offset="76.56%" stop-color="#ff6000"/><stop offset="78.12%" stop-color="#ff6000"/><stop offset="78.12%" stop-color="#ff5000"/><stop offset="79.69%" stop-color="#ff5000"/><stop offset="79.69%" stop-color="#ff4000"/><stop offset="81.25%" stop-color="#ff4000"/><stop offset="81.25%" stop-color="#ff3000"/><stop offset="82.81%" stop-color="#ff3000"/><stop offset="82.81%" stop-color="#ff2000"/><stop offset="84.38%" stop-color="#ff2000"/><stop offset="84.38%" stop-color="#ff1000"/><stop offset="85.94%" stop-color="#ff1000"/><stop offset="85.94%" stop-color="#ff0000"/><stop offset="87.5%" stop-color="#ff0000"/><stop offset="87.5%" stop-color="#ef0000"/><stop offset="89.06%" stop-color="#ef0000"/><stop offset="89.06%" stop-color="#df0000"/><stop offset="90.62%" stop-color="#df0000"/><stop offset="90.62%" stop-color="#cf0000"/><stop offset="92.19%" stop-color="#cf0000"/><stop offset="92.19%" stop-color="#bf0000"/><stop offset="93.75%" stop-color="#bf0000"/><stop offset="93.75%" stop-color="#af0000"/><stop offset="95.31%" stop-color="#af0000"/><stop offset="95.31%" stop-color="#9f0000"/><stop offset="96.88%" stop-color="#9f0000"/><stop offset="96.88%" stop-color="#8f0000"/><stop offset="98.44%" stop-color="#8f0000"/><stop offset="98.44%" stop-color="#800000"/><stop offset="100%" stop-color="#800000"/></linearGradient><rect x="714" y="301.5" width="19.6" height="149.7" fill="url(#cbD)" stroke="#000" stroke-width="0.8"/>
<path d="M118.1 74.3L130.5 95.6L131.1 146.4L122.6 196.5L118.1 217.4" fill="none" stroke="#000" stroke-width="1.5" stroke-linejoin="round"/>
<clipPath id="cc1"><rect x="0" y="73.55" width="800" height="144.6"/></clipPath>
<path clip-path="url(#cc1)" d="M113.6 74.3H122.6M113.6 72.4V76.2M122.6 72.4V76.2M125.6 95.6H135.4M125.6 93.7V97.5M135.4 93.7V97.5M125.9 146.4H136.3M125.9 144.5V148.3M136.3 144.5V148.3M118.1 196.5H127.1M118.1 194.6V198.4M127.1 194.6V198.4M113.6 217.4H122.6M113.6 215.5V219.3M122.6 215.5V219.3" fill="none" stroke="#000" stroke-width="1.5"/>
<path d="M147.5 241.8L174.2 230.8L201.8 226.8L229.5 229.4L257 242.6L285 246.5L312.75 247.2L340.2 246.8L367.2 241.8" fill="none" stroke="#000" stroke-width="1.5" stroke-linejoin="round"/>
<clipPath id="cc2"><rect x="146.75" y="0" width="221.2" height="547"/></clipPath>
<path clip-path="url(#cc2)" d="M147.5 240V243.6M145.6 240H149.4M145.6 243.6H149.4M174.2 229.6V232M172.3 229.6H176.1M172.3 232H176.1M201.8 225.6V228M199.9 225.6H203.7M199.9 228H203.7M229.5 228.2V230.6M227.6 228.2H231.4M227.6 230.6H231.4M257 240.1V245.1M255.1 240.1H258.9M255.1 245.1H258.9M285 243.7V249.3M283.1 243.7H286.9M283.1 249.3H286.9M312.75 246V248.4M310.85 246H314.65M310.85 248.4H314.65M340.2 245.6V248M338.3 245.6H342.1M338.3 248H342.1M367.2 239.9V243.7M365.3 239.9H369.1M365.3 243.7H369.1" fill="none" stroke="#000" stroke-width="1.5"/>
<path d="M461.1 74.3L463 94.6L464.6 144.5L450.6 194.5L447.5 215.5" fill="none" stroke="#000" stroke-width="1.5" stroke-linejoin="round"/>
<clipPath id="cc3"><rect x="0" y="73.55" width="800" height="142.7"/></clipPath>
<path clip-path="url(#cc3)" d="M458.4 74.3H463.8M458.4 72.4V76.2M463.8 72.4V76.2M459.5 94.6H466.5M459.5 92.7V96.5M466.5 92.7V96.5M460.7 144.5H468.5M460.7 142.6V146.4M468.5 142.6V146.4M448.2 194.5H453M448.2 192.6V196.4M453 192.6V196.4M445 215.5H450M445 213.6V217.4M450 213.6V217.4" fill="none" stroke="#000" stroke-width="1.5"/>
<path d="M476.75 239L504.2 246.7L531.95 247.5L560 247.75L587.5 246.2L616.1 237.1L644.2 228.1L672.3 228.1L699.4 238.7" fill="none" stroke="#000" stroke-width="1.5" stroke-linejoin="round"/>
<clipPath id="cc4"><rect x="476" y="0" width="224.15" height="547"/></clipPath>
<path clip-path="url(#cc4)" d="M476.75 235.3V242.7M474.85 235.3H478.65M474.85 242.7H478.65M504.2 243.9V249.5M502.3 243.9H506.1M502.3 249.5H506.1M531.95 246.5V248.5M530.05 246.5H533.85M530.05 248.5H533.85M560 246.75V248.75M558.1 246.75H561.9M558.1 248.75H561.9M587.5 245.2V247.2M585.6 245.2H589.4M585.6 247.2H589.4M616.1 236.1V238.1M614.2 236.1H618M614.2 238.1H618M644.2 226.3V229.9M642.3 226.3H646.1M642.3 229.9H646.1M672.3 224.9V231.3M670.4 224.9H674.2M670.4 231.3H674.2M699.4 235.2V242.2M697.5 235.2H701.3M697.5 242.2H701.3" fill="none" stroke="#000" stroke-width="1.5"/>
<path d="M127.3 304.5L125.5 324.9L117.1 374.1L115.5 423.7L113.9 444.2" fill="none" stroke="#000" stroke-width="1.5" stroke-linejoin="round"/>
<clipPath id="cc5"><rect x="0" y="303.75" width="800" height="141.2"/></clipPath>
<path clip-path="url(#cc5)" d="M123.5 304.5H131.1M123.5 302.6V306.4M131.1 302.6V306.4M124.5 324.9H126.5M124.5 323V326.8M126.5 323V326.8M116.1 374.1H118.1M116.1 372.2V376M118.1 372.2V376M114.5 423.7H116.5M114.5 421.8V425.6M116.5 421.8V425.6M112.7 444.2H115.1M112.7 442.3V446.1M115.1 442.3V446.1" fill="none" stroke="#000" stroke-width="1.5"/>
<path d="M144 467.25L171 467.7L198.75 466.2L226 465.75L253.6 456.7L281.1 456.7L308.7 461.7L336 469.4L363.3 466.9" fill="none" stroke="#000" stroke-width="1.5" stroke-linejoin="round"/>
<path d="M144 462.35V472.15M142.1 462.35H145.9M142.1 472.15H145.9M171 463.1V472.3M169.1 463.1H172.9M169.1 472.3H172.9M198.75 462.8V469.6M196.85 462.8H200.65M196.85 469.6H200.65M226 461.45V470.05M224.1 461.45H227.9M224.1 470.05H227.9M253.6 451.8V461.6M251.7 451.8H255.5M251.7 461.6H255.5M281.1 452.2V461.2M279.2 452.2H283M279.2 461.2H283M308.7 457.7V465.7M306.8 457.7H310.6M306.8 465.7H310.6M336 466.2V472.6M334.1 466.2H337.9M334.1 472.6H337.9M363.3 461.8V472M361.4 461.8H365.2M361.4 472H365.2" fill="none" stroke="#000" stroke-width="1.5"/>
<path d="M456.2 303.8L452.8 324.2L446.1 375.1L444.6 425.5L442.4 445.9" fill="none" stroke="#000" stroke-width="1.5" stroke-linejoin="round"/>
<clipPath id="cc7"><rect x="0" y="303.05" width="800" height="143.6"/></clipPath>
<path clip-path="url(#cc7)" d="M454.9 303.8H457.5M454.9 301.9V305.7M457.5 301.9V305.7M441.9 445.9H442.9M441.9 444V447.8M442.9 444V447.8" fill="none" stroke="#000" stroke-width="1.5"/>
<path d="M476.75 471L504.2 469.2L531.8 468L559.25 462L586.8 456.7L614.1 456.7L641.75 466.1L669.4 469.4L697 471" fill="none" stroke="#000" stroke-width="1.5" stroke-linejoin="round"/>
<path d="M476.75 466.9V475.1M474.85 466.9H478.65M474.85 475.1H478.65M504.2 465.8V472.6M502.3 465.8H506.1M502.3 472.6H506.1M531.8 464.3V471.7M529.9 464.3H533.7M529.9 471.7H533.7M559.25 458.3V465.7M557.35 458.3H561.15M557.35 465.7H561.15M586.8 453.3V460.1M584.9 453.3H588.7M584.9 460.1H588.7M614.1 452.9V460.5M612.2 452.9H616M612.2 460.5H616M641.75 462.9V469.3M639.85 462.9H643.65M639.85 469.3H643.65M669.4 466.2V472.6M667.5 466.2H671.3M667.5 472.6H671.3M697 466.6V475.4M695.1 466.6H698.9M695.1 475.4H698.9" fill="none" stroke="#000" stroke-width="1.5"/>
<text transform="translate(99.8 43.7)" font-size="53" font-weight="bold" text-anchor="start" stroke="#000" stroke-width="0.9" stroke-linejoin="round">A</text>
<text transform="translate(161.5 43.1) scale(1 1.05)" font-size="44" font-weight="bold" text-anchor="start" stroke="#000" stroke-width="0.9" stroke-linejoin="round">Vestibular</text>
<text transform="translate(434.3 43.75) scale(1 1.01)" font-size="52.5" font-weight="bold" text-anchor="start" stroke="#000" stroke-width="0.9" stroke-linejoin="round">B</text>
<text transform="translate(524.3 43.75) scale(1 1.05)" font-size="44.3" font-weight="bold" text-anchor="start" stroke="#000" stroke-width="0.9" stroke-linejoin="round">Visual</text>
<text transform="translate(97.8 285.8) scale(1 1.055)" font-size="50" font-weight="bold" text-anchor="start" stroke="#000" stroke-width="0.9" stroke-linejoin="round">C</text>
<text transform="translate(433.6 285.7) scale(1 1.05)" font-size="49.5" font-weight="bold" text-anchor="start" stroke="#000" stroke-width="0.9" stroke-linejoin="round">D</text>
<text transform="translate(100 82.2) scale(1 1.02)" font-size="21.8" font-weight="normal" text-anchor="end">-90</text>
<text transform="translate(100 103.6) scale(1 1.02)" font-size="21.8" font-weight="normal" text-anchor="end">-45</text>
<text transform="translate(100 150.9) scale(1 1.02)" font-size="21.8" font-weight="normal" text-anchor="end">0</text>
<text transform="translate(100 197.6) scale(1 1.02)" font-size="21.8" font-weight="normal" text-anchor="end">45</text>
<text transform="translate(100 217.2) scale(1 1.02)" font-size="21.8" font-weight="normal" text-anchor="end">90</text>
<text transform="translate(100 315.5) scale(1 1.02)" font-size="21.8" font-weight="normal" text-anchor="end">-90</text>
<text transform="translate(100 336.1) scale(1 1.02)" font-size="21.8" font-weight="normal" text-anchor="end">-45</text>
<text transform="translate(100 383.4) scale(1 1.02)" font-size="21.8" font-weight="normal" text-anchor="end">0</text>
<text transform="translate(100 430.1) scale(1 1.02)" font-size="21.8" font-weight="normal" text-anchor="end">45</text>
<text transform="translate(100 448.8) scale(1 1.02)" font-size="21.8" font-weight="normal" text-anchor="end">90</text>
<text transform="translate(398.6 82.4) scale(1 1.02)" font-size="21.8" font-weight="normal" text-anchor="start">50</text>
<text transform="translate(398.6 148.6) scale(1 1.02)" font-size="21.8" font-weight="normal" text-anchor="start">30</text>
<text transform="translate(398.6 209.8) scale(1 1.02)" font-size="21.8" font-weight="normal" text-anchor="start">10</text>
<text transform="translate(734.5 82.3) scale(1 1.02)" font-size="21.8" font-weight="normal" text-anchor="start">60</text>
<text transform="translate(734.5 142.2) scale(1 1.02)" font-size="21.8" font-weight="normal" text-anchor="start">40</text>
<text transform="translate(734.5 197.1) scale(1 1.02)" font-size="21.8" font-weight="normal" text-anchor="start">20</text>
<text transform="translate(397.5 338.2) scale(1 1.02)" font-size="21.8" font-weight="normal" text-anchor="start">30</text>
<text transform="translate(397.5 395.8) scale(1 1.02)" font-size="21.8" font-weight="normal" text-anchor="start">20</text>
<text transform="translate(397.5 450.2) scale(1 1.02)" font-size="21.8" font-weight="normal" text-anchor="start">10</text>
<text transform="translate(737 314.3) scale(1 1.02)" font-size="21.8" font-weight="normal" text-anchor="start">50</text>
<text transform="translate(737 380.9) scale(1 1.02)" font-size="21.8" font-weight="normal" text-anchor="start">30</text>
<text transform="translate(737 444.6) scale(1 1.02)" font-size="21.8" font-weight="normal" text-anchor="start">10</text>
<text transform="translate(142.3 499.75) scale(1 1.02)" font-size="22.3" font-weight="normal" text-anchor="middle">0</text>
<text transform="translate(194.5 499.75) scale(1 1.02)" font-size="22.3" font-weight="normal" text-anchor="middle">90</text>
<text transform="translate(253 499.75) scale(1 1.02)" font-size="22.3" font-weight="normal" text-anchor="middle">180</text>
<text transform="translate(306.9 499.75) scale(1 1.02)" font-size="22.3" font-weight="normal" text-anchor="middle">270</text>
<text transform="translate(358.4 499.75) scale(1 1.02)" font-size="22.3" font-weight="normal" text-anchor="middle">360</text>
<text transform="translate(478.2 504.4) scale(1 1.02)" font-size="22.3" font-weight="normal" text-anchor="middle">0</text>
<text transform="translate(532.3 504.4) scale(1 1.02)" font-size="22.3" font-weight="normal" text-anchor="middle">90</text>
<text transform="translate(588.6 504.4) scale(1 1.02)" font-size="22.3" font-weight="normal" text-anchor="middle">180</text>
<text transform="translate(642.8 504.4) scale(1 1.02)" font-size="22.3" font-weight="normal" text-anchor="middle">270</text>
<text transform="translate(694.4 504.4) scale(1 1.02)" font-size="22.3" font-weight="normal" text-anchor="middle">360</text>
<text transform="translate(306 532.9) scale(1 1.02)" font-size="29.3" font-weight="normal" text-anchor="start">Azimuth (deg)</text>
<text transform="translate(34.9 227) rotate(-90)" font-size="36.5" font-weight="bold" text-anchor="start" stroke="#000" stroke-width="0.9" stroke-linejoin="round">Rotatiaon</text>
<text transform="translate(35.5 486.5) rotate(-90)" font-size="35.6" font-weight="bold" text-anchor="start" stroke="#000" stroke-width="0.9" stroke-linejoin="round">Translation</text>
<text transform="translate(66.7 345) rotate(-90) scale(1 1.02)" font-size="29" font-weight="normal" text-anchor="start">Elevation (deg)</text>
<text transform="translate(771.7 119) rotate(90) scale(1 1.02)" font-size="29" font-weight="normal" text-anchor="start">Firing Rate (spikes/s)</text>
</svg>
</body></html>
